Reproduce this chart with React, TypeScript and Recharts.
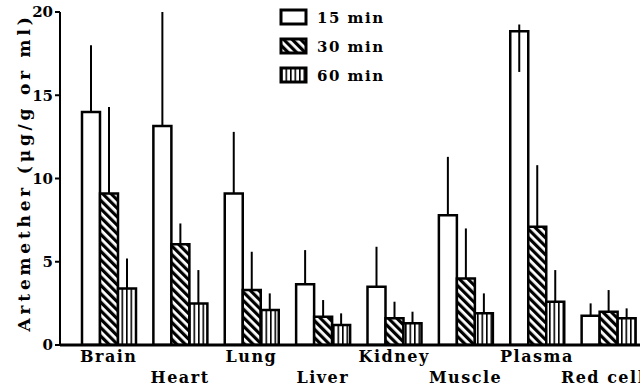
import React from "react"
import {
  BarChart,
  Bar,
  ErrorBar,
  XAxis,
  YAxis,
} from "recharts"

const categories = ["Brain", "Heart", "Lung", "Liver", "Kidney", "Muscle", "Plasma", "Red cells"]
const seriesNames = ["15 min", "30 min", "60 min"]
const yTicks = [0, 5, 10, 15, 20]

const min15 = [14.0, 13.15, 9.1, 3.65, 3.5, 7.8, 18.85, 1.75]
const min15ErrUp = [4.0, 6.85, 3.7, 2.05, 2.4, 3.5, 0.4, 0.75]
const min15ErrDown = [0, 0, 0, 0, 0, 0, 2.45, 0]
const min30 = [9.1, 6.05, 3.3, 1.7, 1.6, 4.0, 7.1, 2.0]
const min30ErrUp = [5.2, 1.25, 2.3, 1.0, 1.0, 3.0, 3.7, 1.3]
const min60 = [3.4, 2.5, 2.1, 1.2, 1.3, 1.9, 2.6, 1.6]
const min60ErrUp = [1.8, 2.0, 1.0, 0.7, 0.7, 1.2, 1.9, 0.6]

const data = categories.map((name, i) => ({
  name,
  m15: min15[i],
  m30: min30[i],
  m60: min60[i],
  e15: [min15ErrDown[i], min15ErrUp[i]],
  e30: [0, min30ErrUp[i]],
  e60: [0, min60ErrUp[i]],
}))

const FONT = "'DejaVu Serif', 'Liberation Serif', serif"
const fills = ["#fff", "url(#diag)", "url(#vert)"]

const CategoryTick = ({ x, y, payload, index }: any) => {
  const row = index % 2
  return (
    <text
      x={x}
      y={y + (row ? 30 : 9)}
      textAnchor="middle"
      fontFamily={FONT}
      fontWeight="bold"
      fontSize={16}
      letterSpacing={1.5}
      fill="#000"
    >
      {payload.value}
    </text>
  )
}

// legend drawn beside the chart, same look as the printed key
const LegendBox = () => (
  <svg width={130} height={86} style={{ position: "absolute", left: 279, top: 8 }}>
    {seriesNames.map((s, i) => (
      <g key={s} transform={`translate(2, ${2 + i * 29})`}>
        <rect x={0} y={0} width={25} height={14} fill={fills[i]} stroke="#000" strokeWidth={3} />
        <text x={36} y={13} fontFamily={FONT} fontWeight="bold" fontSize={15} letterSpacing={1.5} fill="#000">
          {s}
        </text>
      </g>
    ))}
  </svg>
)

export default function App() {
  return (
    <div style={{ position: "absolute", left: 0, top: 0, width: 640, height: 389, overflow: "hidden", background: "#fff" }}>
      <BarChart
        width={644}
        height={389}
        data={data}
        margin={{ top: 12, right: 0, left: 0, bottom: 0 }}
        barGap={0}
        barSize={18}
      >
        <defs>
          <pattern id="diag" patternUnits="userSpaceOnUse" width={6} height={6} patternTransform="rotate(-45)">
            <rect x={0} y={0} width={6} height={6} fill="#fff" />
            <rect x={0} y={0} width={3.2} height={6} fill="#000" />
          </pattern>
          <pattern id="vert" patternUnits="userSpaceOnUse" width={4.5} height={6}>
            <rect x={0} y={0} width={4.5} height={6} fill="#fff" />
            <rect x={0} y={0} width={1.6} height={6} fill="#000" />
          </pattern>
        </defs>
        <XAxis
          dataKey="name"
          height={44}
          padding={{ left: 13, right: 0 }}
          axisLine={{ stroke: "#000", strokeWidth: 3 }}
          tickLine={false}
          tick={<CategoryTick />}
          interval={0}
        />
        <YAxis
          width={60}
          domain={[0, 20]}
          ticks={yTicks}
          allowDataOverflow
          axisLine={{ stroke: "#000", strokeWidth: 2 }}
          tickLine={{ stroke: "#000", strokeWidth: 2 }}
          tickSize={5}
          tick={{ fontFamily: FONT, fontWeight: "bold", fontSize: 15, fill: "#000" }}
          label={{
            value: "Artemether (μg/g or ml)",
            angle: -90,
            position: "insideLeft",
            offset: 0,
            dx: 24,
            dy: -6,
            style: { fontFamily: FONT, fontWeight: "bold", fontSize: 17, letterSpacing: 3.8, fill: "#000", textAnchor: "middle" },
          }}
        />
        <Bar dataKey="m15" fill={fills[0]} stroke="#000" strokeWidth={2.5} isAnimationActive={false}>
          <ErrorBar dataKey="e15" direction="y" width={0} stroke="#000" strokeWidth={2} />
        </Bar>
        <Bar dataKey="m30" fill={fills[1]} stroke="#000" strokeWidth={2.5} isAnimationActive={false}>
          <ErrorBar dataKey="e30" direction="y" width={0} stroke="#000" strokeWidth={2} />
        </Bar>
        <Bar dataKey="m60" fill={fills[2]} stroke="#000" strokeWidth={2.5} isAnimationActive={false}>
          <ErrorBar dataKey="e60" direction="y" width={0} stroke="#000" strokeWidth={2} />
        </Bar>
      </BarChart>
      <LegendBox />
    </div>
  )
}
